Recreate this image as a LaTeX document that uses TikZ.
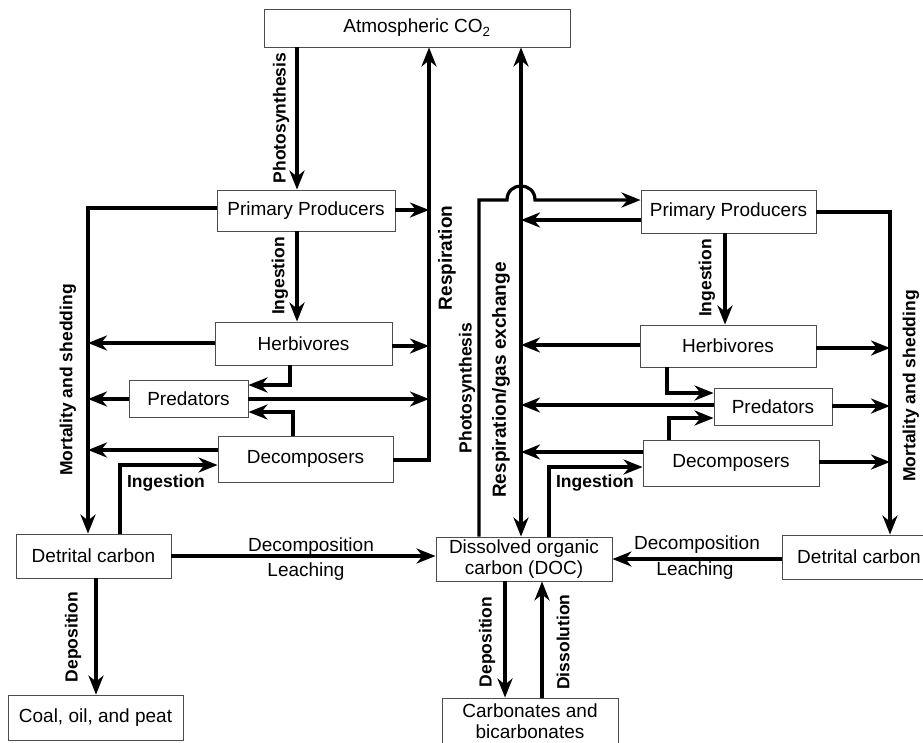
\documentclass[tikz,border=0pt]{standalone}
\usepackage{fontspec}
\setmainfont{Liberation Sans}
\usetikzlibrary{arrows.meta}
\begin{document}
\begin{tikzpicture}[x=1pt,y=-1pt,
  box/.style={draw=black!70,line width=0.9pt,inner sep=0pt,align=center,font=\fontsize{19}{21}\selectfont},
  lab/.style={inner sep=0pt,font=\fontsize{17.5}{20}\selectfont\bfseries},
  biglab/.style={inner sep=0pt,font=\fontsize{19}{22}\selectfont\bfseries},
  hlab/.style={inner sep=0pt,font=\fontsize{19}{22}\selectfont},
  flow/.style={line width=3.2pt,-{Stealth[length=19pt,width=15pt,inset=6pt]}},
  flowboth/.style={line width=3.2pt,{Stealth[length=19pt,width=15pt,inset=6pt]}-{Stealth[length=19pt,width=15pt,inset=6pt]}},
  plain/.style={line width=3.2pt}]
\useasboundingbox (0,0) rectangle (923,742);
\fill[white] (0,0) rectangle (923,742);

% ---------- boxes ----------
\node[box,minimum width=306pt,minimum height=38pt] (co2) at (417,28) {Atmospheric CO\textsubscript{2}};

\node[box,minimum width=178pt,minimum height=41pt] (lpp) at (306,210.5) {Primary Producers};
\node[box,minimum width=177pt,minimum height=43pt] (lherb) at (303.5,343.5) {Herbivores};
\node[box,minimum width=119pt,minimum height=37pt] (lpred) at (188.5,398.5) {Predators};
\node[box,minimum width=175pt,minimum height=46pt] (ldec) at (305.5,459) {Decomposers};
\node[box,minimum width=155pt,minimum height=44pt] (ldet) at (93.5,556) {Detrital carbon};
\node[box,minimum width=175pt,minimum height=45pt] (coal) at (95.5,717.5) {Coal, oil, and peat};

\node[box,minimum width=175pt,minimum height=43pt] (rpp) at (728.5,211.5) {Primary Producers};
\node[box,minimum width=176pt,minimum height=42pt] (rherb) at (728,346) {Herbivores};
\node[box,minimum width=118pt,minimum height=37pt] (rpred) at (773,406.5) {Predators};
\node[box,minimum width=176pt,minimum height=46pt] (rdec) at (731,463) {Decomposers};
\node[box,minimum width=176pt,minimum height=44pt] (doc) at (524,559) {Dissolved organic\\carbon (DOC)};
\node[box,minimum width=154pt,minimum height=44pt] (rdet) at (859,557) {Detrital carbon};
\node[box,minimum width=176pt,minimum height=46pt] (carb) at (530,721) {Carbonates and\\bicarbonates};

% ---------- junction coordinates ----------
\coordinate (lr0) at (429,460);
\coordinate (lr1) at (429,210);
\coordinate (lr2) at (429,346);
\coordinate (lr3) at (429,399);
\coordinate (lm0) at (88,208);
\coordinate (lm1) at (88,343);
\coordinate (lm2) at (88,399);
\coordinate (lm3) at (88,450);

\coordinate (rph0) at (479,200);
\coordinate (hopA) at (507,200);
\coordinate (hopB) at (535,200);
\coordinate (rr1) at (521,220);
\coordinate (rr2) at (521,345);
\coordinate (rr3) at (521,405);
\coordinate (rr4) at (521,452);
\coordinate (rm0) at (890,212);
\coordinate (rm1) at (890,348);
\coordinate (rm2) at (890,406);
\coordinate (rm3) at (890,462);

% ---------- left connectors ----------
\draw[flow] (co2.south -| 297,0) -- (lpp.north -| 297,0);
\draw[flow] (ldec.east |- 0,460) -- (lr0) -- (co2.south -| lr0);
\draw[flow] (lpp.east |- 0,210) -- (lr1);
\draw[flow] (lherb.east |- 0,346) -- (lr2);
\draw[flow] (lpred.east |- 0,399) -- (lr3);
\draw[flow] (lpp.west |- 0,208) -- (lm0) -- (ldet.north -| lm0);
\draw[flow] (lherb.west |- 0,343) -- (lm1);
\draw[flow] (lpred.west |- 0,399) -- (lm2);
\draw[flow] (ldec.west |- 0,450) -- (lm3);
\draw[flow] (lpp.south -| 297,0) -- (lherb.north -| 297,0);
\draw[flow] (lherb.south -| 290,0) |- (lpred.east |- 0,385);
\draw[flow] (ldec.north -| 293,0) |- (lpred.east |- 0,412);
\draw[flow] (ldet.north -| 120,0) |- (ldec.west |- 0,465);
\draw[flow] (ldet.east |- 0,556) -- (doc.west |- 0,556);
\draw[flow] (ldet.south -| 96,0) -- (coal.north -| 96,0);

% ---------- right connectors ----------
\draw[flowboth] (co2.south -| 521,0) -- (doc.north -| 521,0);
\draw[flow] (doc.north -| rph0) -- (rph0) -- (hopA) .. controls (507,181.3) and (535,181.3) .. (hopB) -- (rpp.west |- hopB);
\draw[flow] (rpp.west |- rr1) -- (rr1);
\draw[flow] (rherb.west |- rr2) -- (rr2);
\draw[flow] (rpred.west |- rr3) -- (rr3);
\draw[flow] (rdec.west |- rr4) -- (rr4);
\draw[flow] (rpp.east |- rm0) -- (rm0) -- (rdet.north -| rm0);
\draw[flow] (rherb.east |- rm1) -- (rm1);
\draw[flow] (rpred.east |- rm2) -- (rm2);
\draw[flow] (rdec.east |- rm3) -- (rm3);
\draw[flow] (rpp.south -| 725,0) -- (rherb.north -| 725,0);
\draw[flow] (rherb.south -| 667,0) |- (rpred.west |- 0,393);
\draw[flow] (rdec.north -| 669,0) |- (rpred.west |- 0,418);
\draw[flow] (doc.north -| 549,0) |- (rdec.west |- 0,467);
\draw[flow] (rdet.west |- 0,559) -- (doc.east |- 0,559);
\draw[flow] (doc.south -| 505,0) -- (carb.north -| 505,0);
\draw[flow] (carb.north -| 542,0) -- (doc.south -| 542,0);

% ---------- labels ----------
\node[lab,rotate=90] (tPhL) at (281,118) {Photosynthesis};
\node[lab,rotate=90] (tIngL) at (280,276) {Ingestion};
\node[biglab,rotate=90] (tRespL) at (447,258) {Respiration};
\node[lab,rotate=90] (tMortL) at (68,380) {Mortality and shedding};
\node[lab] (tIngL2) at (166,483) {Ingestion};
\node[hlab] (tDecL) at (311,547) {Decomposition};
\node[hlab] (tLeaL) at (306,572) {Leaching};
\node[lab,rotate=90] (tDepL) at (73,637) {Deposition};

\node[lab,rotate=90] (tPhR) at (467,388) {Photosynthesis};
\node[biglab,rotate=90] (tRespR) at (501,380) {Respiration/gas exchange};
\node[lab,rotate=90] (tIngR) at (707,278) {Ingestion};
\node[lab,rotate=90] (tMortR) at (911,386) {Mortality and shedding};
\node[lab] (tIngR2) at (595,483) {Ingestion};
\node[hlab] (tDecR) at (697,545) {Decomposition};
\node[hlab] (tLeaR) at (695,571) {Leaching};
\node[lab,rotate=90] (tDepR) at (487,642) {Deposition};
\node[lab,rotate=90] (tDisR) at (563,642) {Dissolution};
\end{tikzpicture}
\end{document}
